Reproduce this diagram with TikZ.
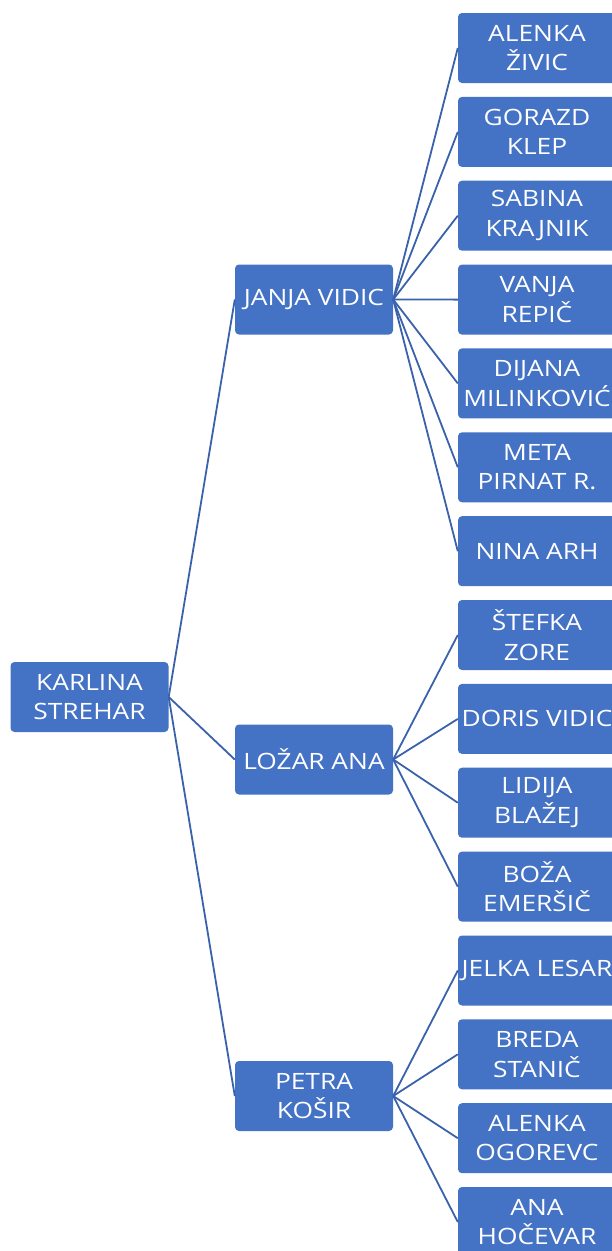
\documentclass[tikz,border=0pt]{standalone}
\usepackage{fontspec}
\setmainfont{Open Sans}[FakeStretch=1.17]
\definecolor{boxblue}{HTML}{4472C4}
\definecolor{lineblue}{HTML}{3A62AA}
\begin{document}
\begin{tikzpicture}[x=1pt,y=-1pt,
  person/.style={fill=boxblue,rounded corners=4pt,minimum width=158pt,minimum height=70pt,
    inner sep=0pt,text=white,align=center,font=\fontsize{22.5}{29.5}\selectfont},
  link/.style={draw=lineblue,line width=1.8pt}]
\useasboundingbox (0,0) rectangle (612,1251);
\clip (0,0) rectangle (612,1251);
\node[person] (root) at (89.5,697) {KARLINA\\STREHAR};
\node[person] (janja) at (314,299.5) {JANJA VIDIC};
\node[person] (lozar) at (314,759.5) {LOŽAR ANA};
\node[person] (petra) at (314,1096) {PETRA\\KOŠIR};
\node[person] (l1) at (537,48) {ALENKA\\ŽIVIC};
\node[person] (l2) at (537,131.9) {GORAZD\\KLEP};
\node[person] (l3) at (537,215.7) {SABINA\\KRAJNIK};
\node[person] (l4) at (537,299.6) {VANJA\\REPIČ};
\node[person] (l5) at (537,383.4) {DIJANA\\MILINKOVIĆ};
\node[person] (l6) at (537,467.3) {META\\PIRNAT R.};
\node[person] (l7) at (537,551.2) {NINA ARH};
\node[person] (l8) at (537,635.0) {ŠTEFKA\\ZORE};
\node[person] (l9) at (537,718.9) {DORIS VIDIC};
\node[person] (l10) at (537,802.7) {LIDIJA\\BLAŽEJ};
\node[person] (l11) at (537,886.6) {BOŽA\\EMERŠIČ};
\node[person] (l12) at (537,970.5) {JELKA LESAR};
\node[person] (l13) at (537,1054.3) {BREDA\\STANIČ};
\node[person] (l14) at (537,1138.2) {ALENKA\\OGOREVC};
\node[person] (l15) at (537,1222.0) {ANA\\HOČEVAR};
\foreach \c in {janja,lozar,petra}
  \draw[link] (root.east) -- (\c.west);
\foreach \c in {l1,l2,l3,l4,l5,l6,l7}
  \draw[link] (janja.east) -- (\c.west);
\foreach \c in {l8,l9,l10,l11}
  \draw[link] (lozar.east) -- (\c.west);
\foreach \c in {l12,l13,l14,l15}
  \draw[link] (petra.east) -- (\c.west);
\end{tikzpicture}
\end{document}
